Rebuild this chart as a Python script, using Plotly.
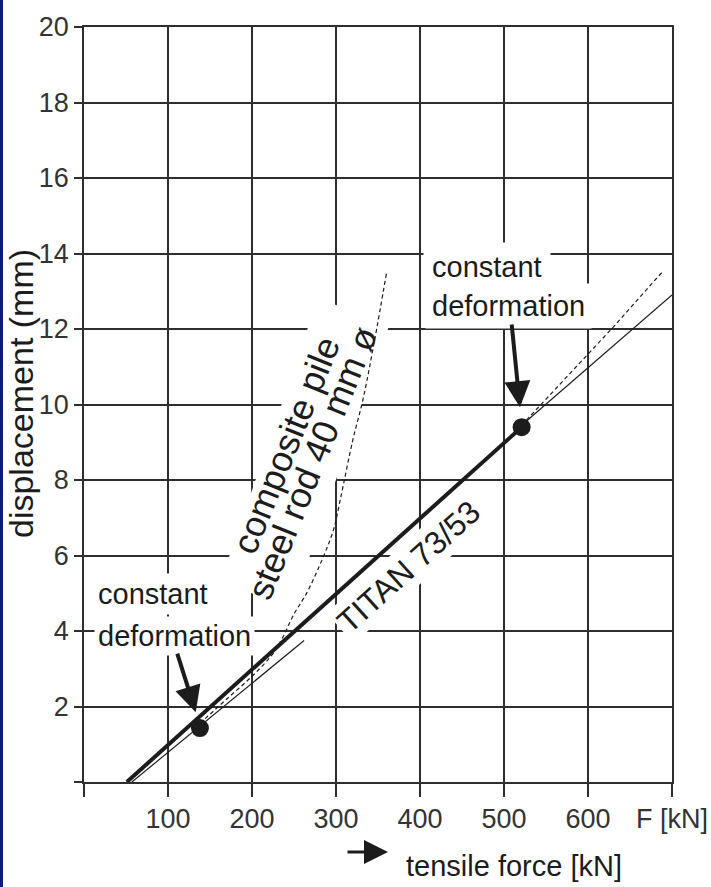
import math
import plotly.graph_objects as go

# ---------------- data ----------------
titan_force = [51, 521]
titan_disp = [0.0, 9.4]

thin_low_force = [57, 262]
thin_low_disp = [0.0, 3.75]

thin_up_force = [521, 700]
thin_up_disp = [9.45, 12.9]

dash_up_force = [521, 580, 630, 688]
dash_up_disp = [9.45, 10.85, 12.05, 13.5]

composite_force = [138, 170, 200, 225, 237, 250, 265, 285, 297, 305, 320, 332, 346, 360]
composite_disp = [1.55, 2.2, 2.8, 3.4, 3.85, 4.45, 5.0, 5.97, 6.68, 7.47, 9.06, 10.12, 11.71, 13.47]

point_force = [138, 521]
point_disp = [1.43, 9.4]

x_tickvals = [0, 100, 200, 300, 400, 500, 600, 700]
x_ticktext = ["", "100", "200", "300", "400", "500", "600", "F [kN]"]
y_tickvals = [0, 2, 4, 6, 8, 10, 12, 14, 16, 18, 20]
y_ticktext = ["", "2", "4", "6", "8", "10", "12", "14", "16", "18", "20"]

# ---------------- style ----------------
INK = "#1c1c1c"
GRID = "#2e2e2e"
FONT = "Liberation Sans, Arial, sans-serif"

W, H = 711, 887
ML, MR, MT, MB = 84, 39, 27, 105
PW, PH = W - ML - MR, H - MT - MB
X0, X1, Y0, Y1 = 0, 700, 0, 20


def px2data(px, py):
    return (X0 + (px - ML) / PW * (X1 - X0), Y0 + (MT + PH - py) / PH * (Y1 - Y0))


fig = go.Figure()

fig.add_trace(go.Scatter(x=thin_low_force, y=thin_low_disp, mode="lines",
                         line=dict(color=INK, width=1.2), showlegend=False, hoverinfo="skip"))
fig.add_trace(go.Scatter(x=thin_up_force, y=thin_up_disp, mode="lines",
                         line=dict(color=INK, width=1.2), showlegend=False, hoverinfo="skip"))
fig.add_trace(go.Scatter(x=dash_up_force, y=dash_up_disp, mode="lines",
                         line=dict(color=INK, width=1.2, dash="4px,3px"), showlegend=False, hoverinfo="skip"))
fig.add_trace(go.Scatter(x=composite_force, y=composite_disp, mode="lines",
                         line=dict(color=INK, width=1.2, dash="4px,3px", shape="spline"),
                         showlegend=False, hoverinfo="skip"))
fig.add_trace(go.Scatter(x=titan_force, y=titan_disp, mode="lines",
                         line=dict(color=INK, width=4), showlegend=False, hoverinfo="skip"))
fig.add_trace(go.Scatter(x=point_force, y=point_disp, mode="markers",
                         marker=dict(color=INK, size=18), showlegend=False, hoverinfo="skip"))

ann = []


def text_ann(t, x, y, size, angle=0, xanchor="center", pad=4, bg="white"):
    ann.append(dict(text=t, x=x, y=y, xref="x", yref="y", showarrow=False,
                    textangle=angle, xanchor=xanchor, yanchor="middle",
                    font=dict(family=FONT, size=size, color=INK),
                    bgcolor=bg, borderpad=pad))


# upper "constant deformation"
text_ann("constant", 403.5, 13.65, 29, xanchor="left", pad=8)
text_ann("deformation", 406, 12.62, 29, xanchor="left", pad=6)
# lower "constant deformation"
text_ann("constant", 10.7, 4.98, 29, xanchor="left", pad=4)
text_ann("deformation", 11.9, 3.88, 29, xanchor="left", pad=3)
# rotated labels
text_ann("composite pile", 241, 8.93, 36, angle=-68, pad=0, bg="rgba(0,0,0,0)")
text_ann("steel rod 40 mm ø", 271, 8.45, 36, angle=-68, pad=0, bg="rgba(0,0,0,0)")
text_ann("TITAN 73/53", 386, 5.7, 32, angle=-42, pad=2)

# arrows pointing at the constant-deformation points
for tip, tail in [((519, 9.93), (509, 12.16)), ((133, 1.85), (110.5, 3.44))]:
    ann.append(dict(x=tip[0], y=tip[1], ax=tail[0], ay=tail[1], xref="x", yref="y",
                    axref="x", ayref="y", text="", showarrow=True, arrowhead=2,
                    arrowsize=1.3, arrowwidth=4, arrowcolor=INK, standoff=0))

# axis title (y)
ann.append(dict(text="displacement (mm)", xref="paper", yref="paper",
                x=(21 - ML) / PW, y=(MT + PH - 394) / PH, showarrow=False, textangle=-90,
                xanchor="center", yanchor="middle",
                font=dict(family=FONT, size=34, color=INK)))
# x title with arrow
ann.append(dict(text="tensile force [kN]", xref="paper", yref="paper",
                x=(404 - ML) / PW, y=(MT + PH - 866) / PH, showarrow=False,
                xanchor="left", yanchor="middle",
                font=dict(family=FONT, size=29, color=INK)))
ann.append(dict(text="", xref="paper", yref="paper",
                x=(388 - ML) / PW, y=(MT + PH - 852) / PH,
                ax=-42, ay=0, showarrow=True, arrowhead=2, arrowsize=1.6,
                arrowwidth=3, arrowcolor=INK, standoff=0))

# white band behind the rotated composite-pile label (masks gridlines only)
cx, cy, ang, half_len, half_w = 305, 453, math.radians(71), 150, 38
ux, uy = math.cos(ang), -math.sin(ang)
vx, vy = math.sin(ang), math.cos(ang)
corners = []
for a, b in [(-1, -1), (1, -1), (1, 1), (-1, 1)]:
    corners.append(px2data(cx + a * half_len * ux + b * half_w * vx,
                           cy + a * half_len * uy + b * half_w * vy))
path = "M " + " L ".join(f"{x:.2f},{y:.3f}" for x, y in corners) + " Z"

shapes = [
    dict(type="path", path=path, xref="x", yref="y", fillcolor="white",
         line=dict(width=0), layer="between"),
    dict(type="rect", xref="paper", yref="paper",
         x0=(0 - ML) / PW, x1=(3 - ML) / PW,
         y0=-MB / PH, y1=(H - MT) / PH,
         fillcolor="#0d1b6e", line=dict(width=0)),
]

fig.update_layout(
    width=W, height=H,
    margin=dict(l=ML, r=MR, t=MT, b=MB, autoexpand=False),
    paper_bgcolor="white", plot_bgcolor="white",
    annotations=ann, shapes=shapes,
    xaxis=dict(range=[X0, X1], tickvals=x_tickvals, ticktext=x_ticktext,
               showgrid=True, gridcolor=GRID, gridwidth=1.6,
               showline=True, linecolor=GRID, linewidth=1.6, mirror=True,
               ticks="outside", ticklen=13, tickwidth=1.6, tickcolor=GRID,
               tickfont=dict(family=FONT, size=27, color="#333"),
               ticklabelstandoff=-1, ticklabeloverflow="allow",
               zeroline=False, fixedrange=True),
    yaxis=dict(range=[Y0, Y1], tickvals=y_tickvals, ticktext=y_ticktext,
               showgrid=True, gridcolor=GRID, gridwidth=1.6,
               showline=True, linecolor=GRID, linewidth=1.6, mirror=True,
               ticks="outside", ticklen=8, tickwidth=1.6, tickcolor=GRID,
               tickfont=dict(family=FONT, size=27, color="#333"),
               ticklabeloverflow="allow",
               zeroline=False, fixedrange=True),
)

fig.write_html("out.html", config={"displayModeBar": False},
               post_script="document.body.style.margin='0px';")
